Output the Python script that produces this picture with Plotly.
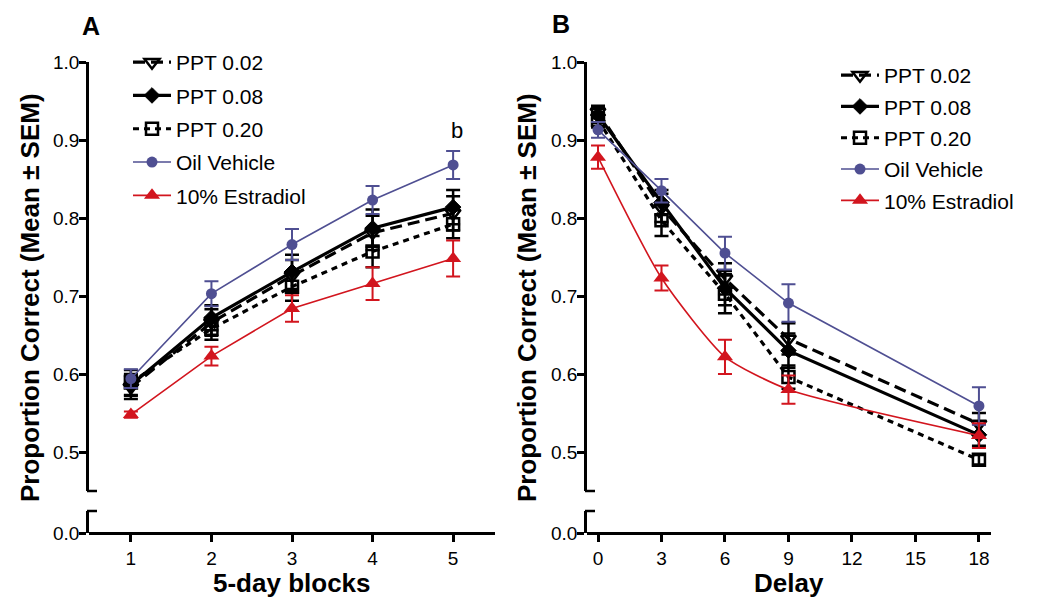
import plotly.graph_objects as go

PAGE_W, PAGE_H = 1050, 612
OFF = 8  # default page body margin
W, H = PAGE_W - OFF, PAGE_H - OFF
FONT = "Liberation Sans, Arial, sans-serif"

# ---------------- data ----------------
series_names = ["PPT 0.02", "PPT 0.08", "PPT 0.20", "Oil Vehicle", "10% Estradiol"]

blocks = [1, 2, 3, 4, 5]
a_ppt002 = [0.583, 0.666, 0.726, 0.781, 0.806]
a_ppt002_sem = [0.015, 0.017, 0.020, 0.022, 0.022]
a_ppt008 = [0.586, 0.672, 0.731, 0.787, 0.814]
a_ppt008_sem = [0.014, 0.016, 0.022, 0.024, 0.022]
a_ppt020 = [0.589, 0.658, 0.712, 0.757, 0.792]
a_ppt020_sem = [0.016, 0.014, 0.018, 0.020, 0.018]
a_oil = [0.594, 0.703, 0.766, 0.823, 0.868]
a_oil_sem = [0.012, 0.016, 0.020, 0.018, 0.018]
a_e2 = [0.548, 0.623, 0.684, 0.716, 0.748]
a_e2_sem = [0.004, 0.012, 0.017, 0.021, 0.023]

delays = [0, 3, 6, 9, 18]
b_ppt002 = [0.936, 0.813, 0.722, 0.645, 0.536]
b_ppt002_sem = [0.008, 0.018, 0.020, 0.020, 0.014]
b_ppt008 = [0.932, 0.820, 0.710, 0.630, 0.522]
b_ppt008_sem = [0.010, 0.016, 0.022, 0.022, 0.014]
b_ppt020 = [0.926, 0.797, 0.703, 0.596, 0.490]
b_ppt020_sem = [0.010, 0.020, 0.025, 0.015, 0.006]
b_oil = [0.913, 0.835, 0.755, 0.691, 0.559]
b_oil_sem = [0.010, 0.015, 0.021, 0.024, 0.024]
b_e2 = [0.878, 0.723, 0.622, 0.580, 0.521]
b_e2_sem = [0.015, 0.016, 0.022, 0.018, 0.016]

upper_ticks = [0.5, 0.6, 0.7, 0.8, 0.9, 1.0]
lower_ticks = [0.0]
block_ticks = [1, 2, 3, 4, 5]
delay_ticks = [0, 3, 6, 9, 12, 15, 18]

# ---------------- styles ----------------
PURPLE = "#4F4F92"
RED = "#D2151E"
styles = [
    dict(color="black", width=3.2, dash="12px,6px", symbol="triangle-down-open", size=13, mlw=2.5, ebw=2.5),
    dict(color="black", width=3.2, dash="solid", symbol="diamond", size=12, mlw=1, ebw=2.5),
    dict(color="black", width=3.2, dash="6px,5px", symbol="square-open", size=12, mlw=2.5, ebw=2.5),
    dict(color=PURPLE, width=1.6, dash="solid", symbol="circle", size=11, mlw=0, ebw=2),
    dict(color=RED, width=1.6, dash="solid", symbol="triangle-up", size=14, mlw=0, ebw=2),
]

def px_x(p):
    return (p - OFF) / W

def px_y(p):
    return 1 - (p - OFF) / H

fig = go.Figure()

# empty traces so that the lower (axis-break) y axes get their own subplots
for xa, ya in (("x", "y"), ("x2", "y3")):
    fig.add_trace(go.Scatter(x=[], y=[], xaxis=xa, yaxis=ya, showlegend=False,
                             hoverinfo="skip", mode="markers"))

panels = [
    ("x", "y2", "legend", blocks,
     [a_ppt002, a_ppt008, a_ppt020, a_oil, a_e2],
     [a_ppt002_sem, a_ppt008_sem, a_ppt020_sem, a_oil_sem, a_e2_sem], False),
    ("x2", "y4", "legend2", delays,
     [b_ppt002, b_ppt008, b_ppt020, b_oil, b_e2],
     [b_ppt002_sem, b_ppt008_sem, b_ppt020_sem, b_oil_sem, b_e2_sem], True),
]

for xa, ya, leg, xs, ys_list, sem_list, smooth in panels:
    for name, ys, sems, st in zip(series_names, ys_list, sem_list, styles):
        shape = "spline" if (smooth and name == "10% Estradiol") else "linear"
        fig.add_trace(go.Scatter(
            x=xs, y=ys, name=name, xaxis=xa, yaxis=ya, legend=leg,
            mode="lines+markers",
            line=dict(color=st["color"], width=st["width"], dash=st["dash"], shape=shape, smoothing=0.6),
            marker=dict(symbol=st["symbol"], size=st["size"], color=st["color"],
                        line=dict(color=st["color"], width=st["mlw"])),
            error_y=dict(type="data", array=sems, visible=True, color=st["color"],
                         thickness=st["ebw"], width=7),
            legendgroup=leg + name,
        ))

axis_common = dict(showline=True, linewidth=2.5, linecolor="black", ticks="outside",
                   ticklen=7, tickwidth=2.5, tickcolor="black", showgrid=False,
                   zeroline=False, automargin=False,
                   tickfont=dict(size=19, color="black", family=FONT))
yaxis_extra = dict(ticklabelstandoff=-4)

A_L, A_R = 89, 495
B_L, B_R = 587, 991
Y_BOT, Y_LOW_TOP, Y_UP_BOT, Y_TOP = 533, 511, 491, 62

fig.update_layout(
    template="none",
    width=W, height=H,
    margin=dict(l=0, r=0, t=0, b=0, pad=0, autoexpand=False),
    paper_bgcolor="white", plot_bgcolor="rgba(0,0,0,0)",
    font=dict(family=FONT, color="black"),
    xaxis=dict(domain=[px_x(A_L), px_x(A_R)], anchor="free", position=px_y(Y_BOT),
               range=[0.48, 5.52], tickvals=block_ticks, **axis_common),
    xaxis2=dict(domain=[px_x(B_L), px_x(B_R)], anchor="free", position=px_y(Y_BOT),
                range=[-0.52, 18.57], tickvals=delay_ticks, **axis_common),
    yaxis=dict(domain=[px_y(Y_BOT), px_y(Y_LOW_TOP)], anchor="x",
               range=[0, 0.0282], tickvals=lower_ticks,
               ticktext=["%.1f" % v for v in lower_ticks], **axis_common, **yaxis_extra),
    yaxis2=dict(domain=[px_y(Y_UP_BOT), px_y(Y_TOP)], anchor="x", range=[0.45, 1.0],
                tickvals=upper_ticks, ticktext=["%.1f" % v for v in upper_ticks],
                **axis_common, **yaxis_extra),
    yaxis3=dict(domain=[px_y(Y_BOT), px_y(Y_LOW_TOP)], anchor="x2",
                range=[0, 0.0282], tickvals=lower_ticks,
                ticktext=["%.1f" % v for v in lower_ticks], **axis_common, **yaxis_extra),
    yaxis4=dict(domain=[px_y(Y_UP_BOT), px_y(Y_TOP)], anchor="x2", range=[0.45, 1.0],
                tickvals=upper_ticks, ticktext=["%.1f" % v for v in upper_ticks],
                **axis_common, **yaxis_extra),
    legend=dict(x=px_x(128), y=px_y(42), xanchor="left", yanchor="top",
                font=dict(size=21, family=FONT), bgcolor="rgba(0,0,0,0)",
                tracegroupgap=3, itemwidth=38),
    legend2=dict(x=px_x(836), y=px_y(55), xanchor="left", yanchor="top",
                 font=dict(size=21, family=FONT), bgcolor="rgba(0,0,0,0)",
                 tracegroupgap=1, itemwidth=38),
    showlegend=True,
)

# axis-break caps
shapes = []
for xl in (A_L, B_L):
    for yp in (Y_UP_BOT, Y_LOW_TOP):
        shapes.append(dict(type="line", xref="paper", yref="paper",
                           x0=px_x(xl - 2), x1=px_x(xl + 8), y0=px_y(yp), y1=px_y(yp),
                           line=dict(color="black", width=2.5)))
fig.update_layout(shapes=shapes)

annos = [
    dict(text="<b>A</b>", x=px_x(91), y=px_y(26), font=dict(size=25)),
    dict(text="<b>B</b>", x=px_x(561), y=px_y(24), font=dict(size=25)),
    dict(text="<b>5-day blocks</b>", x=px_x((A_L + A_R) / 2), y=px_y(583), font=dict(size=26)),
    dict(text="<b>Delay</b>", x=px_x((B_L + B_R) / 2), y=px_y(583), font=dict(size=26)),
    dict(text="<b>Proportion Correct (Mean ± SEM)</b>", x=px_x(30), y=px_y(298),
         textangle=-90, font=dict(size=26)),
    dict(text="<b>Proportion Correct (Mean ± SEM)</b>", x=px_x(527), y=px_y(298),
         textangle=-90, font=dict(size=26)),
    dict(text="b", x=px_x(457), y=px_y(130), font=dict(size=22)),
]
for a in annos:
    a.update(xref="paper", yref="paper", showarrow=False, xanchor="center", yanchor="middle")
    a["font"].update(family=FONT, color="black")
fig.update_layout(annotations=annos)

fig.write_html("out.html")
